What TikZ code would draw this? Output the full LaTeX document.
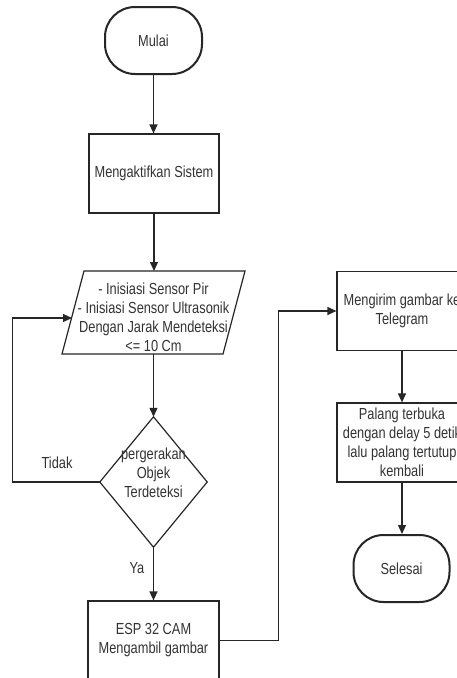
\documentclass[tikz,border=0pt]{standalone}
\usepackage{fontspec}
\setmainfont[FakeStretch=0.8]{Liberation Sans}
\usetikzlibrary{arrows.meta}
\definecolor{ln}{HTML}{262626}
\definecolor{tx}{HTML}{333333}
\begin{document}
\begin{tikzpicture}[x=1pt,y=-1pt,
  base/.style={font=\fontsize{16}{19}\selectfont, text=tx, align=center, inner sep=0pt},
  proc/.style={base, draw=ln, line width=1.2pt, minimum width=130pt, minimum height=79pt},
  term/.style={base, draw=ln, line width=2pt, rounded corners=30pt, minimum width=97pt, minimum height=67pt},
  flow/.style={draw=ln, line width=1.2pt, -{Triangle[length=9pt,width=8pt]}},
  shapeline/.style={draw=ln, line width=1.2pt, line join=miter}]
\useasboundingbox (0,0) rectangle (457,678);
\fill[white] (0,0) rectangle (457,678);

% nodes
\node[term] (start) at (153.5,40.5) {Mulai};
\node[proc] (act) at (154,173.5) {Mengaktifkan Sistem};

% parallelogram (input)
\coordinate (inpTop) at (153.5,271);
\coordinate (inpBot) at (153.5,354);
\coordinate (inpL) at (72,318);
\draw[shapeline] (84,271) -- (245,271) -- (223,354) -- (62,354) -- cycle;
\node[base] (inp) at (153.5,317) {- Inisiasi Sensor Pir\\- Inisiasi Sensor Ultrasonik\\Dengan Jarak Mendeteksi\\<= 10 Cm};

% decision
\node[base, minimum width=107pt, minimum height=130pt] (dec) at (153.5,482) {};
\draw[shapeline] (dec.north) -- (dec.east) -- (dec.south) -- (dec.west) -- cycle;
\node[base] (dectxt) at (153.5,472.5) {pergerakan\\Objek\\Terdeteksi};

\node[proc, minimum width=131pt] (esp) at (153.5,640.5) {ESP 32 CAM\\Mengambil gambar};

\node[proc] (tele) at (402,311) {Mengirim gambar ke\\Telegram};
\node[proc] (pal) at (402,442.5) {Palang terbuka\\dengan delay 5 detik\\lalu palang tertutup\\kembali};
\node[term, minimum width=96pt] (end) at (401.5,568.5) {Selesai};

\node[base] (tidak) at (57,463) {Tidak};
\node[base] (ya) at (137,568) {Ya};

% connectors
\draw[flow] (start.south) -- (start.south |- act.north);
\draw[flow] (act.south) -- (act.south |- inpTop);
\draw[flow] (inpBot) -- (dec.north);
\draw[flow] (dec.south) -- (esp.north);
\draw[flow] (dec.west) -- ++(-87,0) |- (inpL);
\draw[flow] (esp.east) -- ++(59,0) |- (tele.west);
\draw[flow] (tele.south) -- (pal.north);
\draw[flow] (pal.south) -- (pal.south |- end.north);
\end{tikzpicture}
\end{document}
